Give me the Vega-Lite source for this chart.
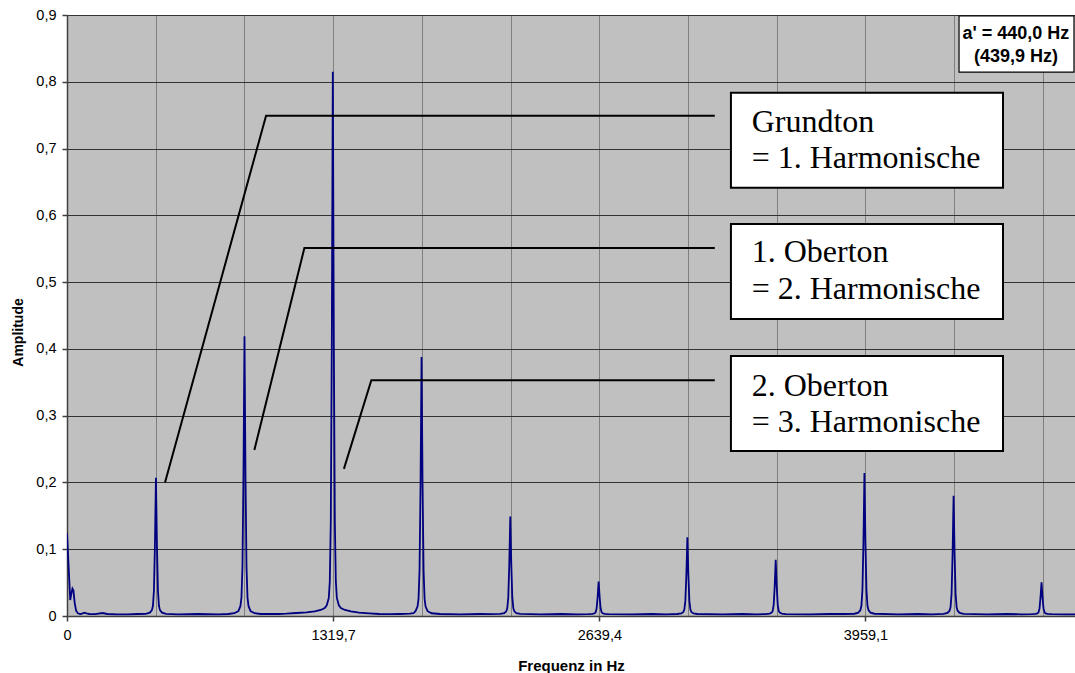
{
  "$schema": "https://vega.github.io/schema/vega-lite/v6.json",
  "width": 1008,
  "height": 601,
  "autosize": {"type": "none"},
  "padding": {"left": 67, "top": 15, "right": 0, "bottom": 57},
  "background": "white",
  "config": {
    "view": {"fill": "#C0C0C0", "stroke": "#808080", "strokeWidth": 1},
    "font": "Liberation Sans"
  },
  "datasets": {
    "spec": [
      {"f": 0, "a": 0.124}, {"f": 16, "a": 0.024}, {"f": 22, "a": 0.034}, {"f": 27, "a": 0.041}, {"f": 32, "a": 0.038},
      {"f": 38, "a": 0.02}, {"f": 45, "a": 0.008}, {"f": 54, "a": 0.004}, {"f": 65, "a": 0.003}, {"f": 75, "a": 0.0035},
      {"f": 86, "a": 0.005}, {"f": 97, "a": 0.004}, {"f": 110, "a": 0.003}, {"f": 140, "a": 0.0028}, {"f": 176, "a": 0.0045},
      {"f": 200, "a": 0.003}, {"f": 250, "a": 0.0025}, {"f": 300, "a": 0.0025}, {"f": 350, "a": 0.003}, {"f": 391, "a": 0.0033},
      {"f": 411, "a": 0.005}, {"f": 421, "a": 0.0087}, {"f": 426, "a": 0.0149}, {"f": 431, "a": 0.0377}, {"f": 436, "a": 0.106},
      {"f": 441, "a": 0.207}, {"f": 446, "a": 0.106}, {"f": 451, "a": 0.0377}, {"f": 456, "a": 0.0149}, {"f": 461, "a": 0.0087},
      {"f": 471, "a": 0.005}, {"f": 491, "a": 0.0033},
      {"f": 550, "a": 0.0025}, {"f": 650, "a": 0.003}, {"f": 750, "a": 0.0025}, {"f": 800, "a": 0.003},
      {"f": 830, "a": 0.0042}, {"f": 850, "a": 0.0075}, {"f": 860, "a": 0.0151}, {"f": 865, "a": 0.0276}, {"f": 870, "a": 0.0737},
      {"f": 875, "a": 0.212}, {"f": 880, "a": 0.419}, {"f": 885, "a": 0.212}, {"f": 890, "a": 0.0737}, {"f": 895, "a": 0.0276},
      {"f": 900, "a": 0.0151}, {"f": 910, "a": 0.0075}, {"f": 930, "a": 0.0042}, {"f": 960, "a": 0.003},
      {"f": 1000, "a": 0.003}, {"f": 1050, "a": 0.003},
      {"f": 1088, "a": 0.0035}, {"f": 1138, "a": 0.0045}, {"f": 1188, "a": 0.0055}, {"f": 1228, "a": 0.007}, {"f": 1258, "a": 0.009},
      {"f": 1278, "a": 0.012}, {"f": 1288, "a": 0.016}, {"f": 1298, "a": 0.027}, {"f": 1303, "a": 0.0514}, {"f": 1308, "a": 0.141},
      {"f": 1313, "a": 0.41}, {"f": 1318, "a": 0.815}, {"f": 1323, "a": 0.41}, {"f": 1328, "a": 0.141}, {"f": 1333, "a": 0.0514},
      {"f": 1338, "a": 0.027}, {"f": 1348, "a": 0.016}, {"f": 1358, "a": 0.012}, {"f": 1378, "a": 0.009}, {"f": 1408, "a": 0.007},
      {"f": 1448, "a": 0.005}, {"f": 1498, "a": 0.004}, {"f": 1548, "a": 0.003},
      {"f": 1600, "a": 0.0028}, {"f": 1650, "a": 0.003}, {"f": 1700, "a": 0.0035},
      {"f": 1718, "a": 0.0041}, {"f": 1728, "a": 0.0072}, {"f": 1738, "a": 0.0141}, {"f": 1743, "a": 0.0258}, {"f": 1748, "a": 0.0685},
      {"f": 1753, "a": 0.1965}, {"f": 1758, "a": 0.388}, {"f": 1763, "a": 0.1965}, {"f": 1768, "a": 0.0685}, {"f": 1773, "a": 0.0258},
      {"f": 1778, "a": 0.0141}, {"f": 1788, "a": 0.0072}, {"f": 1808, "a": 0.0041}, {"f": 1850, "a": 0.003},
      {"f": 1950, "a": 0.0025}, {"f": 2050, "a": 0.003}, {"f": 2100, "a": 0.0028},
      {"f": 2148, "a": 0.0031}, {"f": 2168, "a": 0.0043}, {"f": 2178, "a": 0.007}, {"f": 2183, "a": 0.0114}, {"f": 2188, "a": 0.0278},
      {"f": 2193, "a": 0.077}, {"f": 2198, "a": 0.149}, {"f": 2203, "a": 0.077}, {"f": 2208, "a": 0.0278}, {"f": 2213, "a": 0.0114},
      {"f": 2218, "a": 0.007}, {"f": 2228, "a": 0.0043}, {"f": 2248, "a": 0.0031},
      {"f": 2350, "a": 0.0025}, {"f": 2450, "a": 0.003}, {"f": 2530, "a": 0.0025},
      {"f": 2586, "a": 0.0027}, {"f": 2606, "a": 0.0031}, {"f": 2616, "a": 0.004}, {"f": 2621, "a": 0.0056}, {"f": 2626, "a": 0.0112},
      {"f": 2631, "a": 0.0282}, {"f": 2636, "a": 0.0514}, {"f": 2641, "a": 0.0282}, {"f": 2646, "a": 0.0112}, {"f": 2651, "a": 0.0056},
      {"f": 2656, "a": 0.004}, {"f": 2666, "a": 0.0031}, {"f": 2686, "a": 0.0027},
      {"f": 2800, "a": 0.0025}, {"f": 2900, "a": 0.003}, {"f": 2970, "a": 0.0025},
      {"f": 3026, "a": 0.003}, {"f": 3046, "a": 0.0039}, {"f": 3056, "a": 0.006}, {"f": 3061, "a": 0.0096}, {"f": 3066, "a": 0.0226},
      {"f": 3071, "a": 0.0615}, {"f": 3076, "a": 0.118}, {"f": 3081, "a": 0.0615}, {"f": 3086, "a": 0.0226}, {"f": 3091, "a": 0.0096},
      {"f": 3096, "a": 0.006}, {"f": 3106, "a": 0.0039}, {"f": 3126, "a": 0.003},
      {"f": 3250, "a": 0.0025}, {"f": 3350, "a": 0.003}, {"f": 3420, "a": 0.0025},
      {"f": 3464, "a": 0.0028}, {"f": 3484, "a": 0.0035}, {"f": 3494, "a": 0.005}, {"f": 3499, "a": 0.0075}, {"f": 3504, "a": 0.0168},
      {"f": 3509, "a": 0.0445}, {"f": 3514, "a": 0.084}, {"f": 3519, "a": 0.0445}, {"f": 3524, "a": 0.0168}, {"f": 3529, "a": 0.0075},
      {"f": 3534, "a": 0.005}, {"f": 3544, "a": 0.0035}, {"f": 3564, "a": 0.0028},
      {"f": 3680, "a": 0.0025}, {"f": 3780, "a": 0.003}, {"f": 3850, "a": 0.003},
      {"f": 3904, "a": 0.0034}, {"f": 3924, "a": 0.0051}, {"f": 3934, "a": 0.0089}, {"f": 3939, "a": 0.0153}, {"f": 3944, "a": 0.0389},
      {"f": 3949, "a": 0.1095}, {"f": 3954, "a": 0.214}, {"f": 3959, "a": 0.1095}, {"f": 3964, "a": 0.0389}, {"f": 3969, "a": 0.0153},
      {"f": 3974, "a": 0.0089}, {"f": 3984, "a": 0.0051}, {"f": 4004, "a": 0.0034},
      {"f": 4120, "a": 0.0025}, {"f": 4220, "a": 0.003}, {"f": 4290, "a": 0.0025},
      {"f": 4346, "a": 0.0032}, {"f": 4366, "a": 0.0047}, {"f": 4376, "a": 0.0079}, {"f": 4381, "a": 0.0133}, {"f": 4386, "a": 0.0331},
      {"f": 4391, "a": 0.0925}, {"f": 4396, "a": 0.18}, {"f": 4401, "a": 0.0925}, {"f": 4406, "a": 0.0331}, {"f": 4411, "a": 0.0133},
      {"f": 4416, "a": 0.0079}, {"f": 4426, "a": 0.0047}, {"f": 4446, "a": 0.0032},
      {"f": 4560, "a": 0.0025}, {"f": 4660, "a": 0.003}, {"f": 4730, "a": 0.0025},
      {"f": 4782, "a": 0.0027}, {"f": 4802, "a": 0.0031}, {"f": 4812, "a": 0.004}, {"f": 4817, "a": 0.0055}, {"f": 4822, "a": 0.011},
      {"f": 4827, "a": 0.0278}, {"f": 4832, "a": 0.0505}, {"f": 4837, "a": 0.0278}, {"f": 4842, "a": 0.011}, {"f": 4847, "a": 0.0055},
      {"f": 4852, "a": 0.004}, {"f": 4862, "a": 0.0031}, {"f": 4882, "a": 0.0027},
      {"f": 4950, "a": 0.0025}, {"f": 4998, "a": 0.0025}
    ],
    "lead": [
      {"id": 1, "o": 0, "f": 486, "a": 0.2}, {"id": 1, "o": 1, "f": 987, "a": 0.749}, {"id": 1, "o": 2, "f": 3212, "a": 0.749},
      {"id": 2, "o": 0, "f": 929, "a": 0.2486}, {"id": 2, "o": 1, "f": 1177, "a": 0.551}, {"id": 2, "o": 2, "f": 3212, "a": 0.551},
      {"id": 3, "o": 0, "f": 1373, "a": 0.2203}, {"id": 3, "o": 1, "f": 1509, "a": 0.353}, {"id": 3, "o": 2, "f": 3212, "a": 0.353}
    ],
    "boxes": [
      {"f": 3292, "f2": 4641, "a": 0.7836, "a2": 0.6414},
      {"f": 3292, "f2": 4641, "a": 0.587, "a2": 0.4447},
      {"f": 3292, "f2": 4641, "a": 0.3893, "a2": 0.2471}
    ],
    "abox": [
      {"f": 4423, "f2": 4993, "a": 0.8985, "a2": 0.8146}
    ],
    "ann": [
      {"f": 3395, "a": 0.7243, "t": "Grundton"},
      {"f": 3395, "a": 0.6704, "t": "= 1. Harmonische"},
      {"f": 3395, "a": 0.5295, "t": "1. Oberton"},
      {"f": 3395, "a": 0.474, "t": "= 2. Harmonische"},
      {"f": 3395, "a": 0.33, "t": "2. Oberton"},
      {"f": 3395, "a": 0.2761, "t": "= 3. Harmonische"}
    ],
    "atext": [
      {"f": 4705, "a": 0.8635, "t": "a' = 440,0 Hz"},
      {"f": 4705, "a": 0.83, "t": "(439,9 Hz)"}
    ]
  },
  "encoding": {
    "x": {
      "field": "f", "type": "quantitative",
      "scale": {"domain": [0, 4998], "nice": false, "zero": false},
      "axis": {
        "values": [0, 439.9, 879.8, 1319.7, 1759.6, 2199.5, 2639.4, 3079.3, 3519.2, 3959.1, 4399, 4838.9],
        "title": "Frequenz in Hz",
        "titleFont": "Liberation Sans", "titleFontWeight": "bold", "titleFontSize": 15, "titleColor": "black",
        "titleX": 504, "titleY": 49, "titleBaseline": "middle", "titleAlign": "center",
        "labelFont": "Liberation Sans", "labelFontSize": 14.5, "labelColor": "black", "labelPadding": 7,
        "labelFlush": false, "labelOverlap": false,
        "labelExpr": "abs(datum.value/1319.7 - round(datum.value/1319.7)) < 0.001 ? (datum.value == 0 ? '0' : replace(format(datum.value, '.1f'), '.', ',')) : ''",
        "tickSize": 5, "tickColor": "#404040", "tickWidth": 1.5,
        "tickOpacity": {"condition": {"test": "abs(datum.value/1319.7 - round(datum.value/1319.7)) < 0.001", "value": 1}, "value": 0},
        "domainColor": "#404040", "domainWidth": 1.5,
        "grid": true, "gridColor": "#808080", "gridWidth": 1
      }
    },
    "y": {
      "field": "a", "type": "quantitative",
      "scale": {"domain": [0, 0.9], "nice": false, "zero": true},
      "axis": {
        "values": [0, 0.1, 0.2, 0.3, 0.4, 0.5, 0.6, 0.7, 0.8, 0.9],
        "title": "Amplitude",
        "titleFont": "Liberation Sans", "titleFontWeight": "bold", "titleFontSize": 14, "titleColor": "black",
        "titleX": -49, "titleY": 317, "titleAngle": -90, "titleBaseline": "middle", "titleAlign": "center",
        "labelFont": "Liberation Sans", "labelFontSize": 14.5, "labelColor": "black", "labelPadding": 6,
        "labelExpr": "datum.value == 0 ? '0' : replace(format(datum.value, '.1f'), '.', ',')",
        "tickSize": 5, "tickColor": "#404040", "tickWidth": 1.5,
        "domainColor": "#404040", "domainWidth": 1.5,
        "grid": true, "gridColor": "#333333", "gridWidth": 1.2
      }
    }
  },
  "layer": [
    {
      "data": {"name": "spec"},
      "mark": {"type": "line", "color": "#000080", "strokeWidth": 1.8, "clip": true}
    },
    {
      "data": {"name": "lead"},
      "mark": {"type": "line", "color": "black", "strokeWidth": 2},
      "encoding": {
        "detail": {"field": "id", "type": "nominal"},
        "order": {"field": "o", "type": "quantitative"}
      }
    },
    {
      "data": {"name": "boxes"},
      "mark": {"type": "rect", "fill": "white", "stroke": "black", "strokeWidth": 2},
      "encoding": {
        "x2": {"field": "f2"},
        "y2": {"field": "a2"}
      }
    },
    {
      "data": {"name": "abox"},
      "mark": {"type": "rect", "fill": "white", "stroke": "black", "strokeWidth": 1.2},
      "encoding": {
        "x2": {"field": "f2"},
        "y2": {"field": "a2"}
      }
    },
    {
      "data": {"name": "ann"},
      "mark": {"type": "text", "font": "Liberation Serif", "fontSize": 32, "align": "left", "baseline": "alphabetic", "color": "black"},
      "encoding": {
        "text": {"field": "t"}
      }
    },
    {
      "data": {"name": "atext"},
      "mark": {"type": "text", "font": "Liberation Sans", "fontSize": 18, "fontWeight": "bold", "align": "center", "baseline": "alphabetic", "color": "black"},
      "encoding": {
        "text": {"field": "t"}
      }
    }
  ]
}
